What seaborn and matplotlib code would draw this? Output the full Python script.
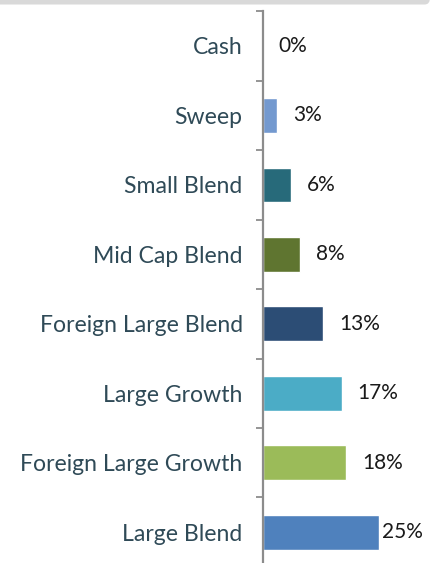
import matplotlib
matplotlib.use("Agg")
import matplotlib.pyplot as plt
from matplotlib.patches import FancyBboxPatch
import seaborn as sns
import pandas as pd

# Data
categories = ["Cash", "Sweep", "Small Blend", "Mid Cap Blend", "Foreign Large Blend",
              "Large Growth", "Foreign Large Growth", "Large Blend"]
weights = [0, 3, 6, 8, 13, 17, 18, 25]
labels = ["0%", "3%", "6%", "8%", "13%", "17%", "18%", "25%"]
colors = ["#7399cf", "#7399cf", "#276a7a", "#5f7530", "#2c4d75", "#4bacc6", "#9bbb59", "#4f81bd"]

df = pd.DataFrame({"category": categories, "weight": weights})

sns.set_theme(style="white")
plt.rcParams["font.family"] = ["Lato", "DejaVu Sans"]

fig = plt.figure(figsize=(4.33, 5.63), dpi=100)
ax = fig.add_axes([0.607, -0.007, 0.36, 0.987])

sns.barplot(data=df, x="weight", y="category", hue="category", palette=colors,
            legend=False, width=0.5, saturation=1, ax=ax, orient="h")

ax.set_xlim(0, 33.6)
ax.set_ylim(len(categories) - 0.5, -0.5)

# value labels
for i, (v, lab) in enumerate(zip(weights, labels)):
    pad = 2 if i == len(weights) - 1 else 11.5
    ax.annotate(lab, xy=(v, i), xytext=(pad, 0), textcoords="offset points",
                ha="left", va="center", fontsize=15, color="#1a1a1a")

ax.set_xlabel("")
ax.set_ylabel("")
ax.set_xticks([])
ax.tick_params(axis="y", which="major", left=False, length=0, pad=14.5, labelsize=16.6,
               labelcolor="#2f4a57")
ax.set_yticks([i + 0.5 for i in range(-1, len(categories))], minor=True)
ax.tick_params(axis="y", which="minor", left=True, length=5, width=1.3, color="#8c8c8c",
               direction="out")

for s in ["top", "right", "bottom"]:
    ax.spines[s].set_visible(False)
ax.spines["left"].set_color("#8c8c8c")
ax.spines["left"].set_linewidth(1.6)

# grey band at the top of the card
band = FancyBboxPatch((-0.02, 0.992), 1.013, 0.03, boxstyle="round,pad=0,rounding_size=0.012",
                      transform=fig.transFigure, facecolor="#d9d9d9", edgecolor="none")
fig.patches.append(band)

fig.savefig("out.png", dpi=100)
